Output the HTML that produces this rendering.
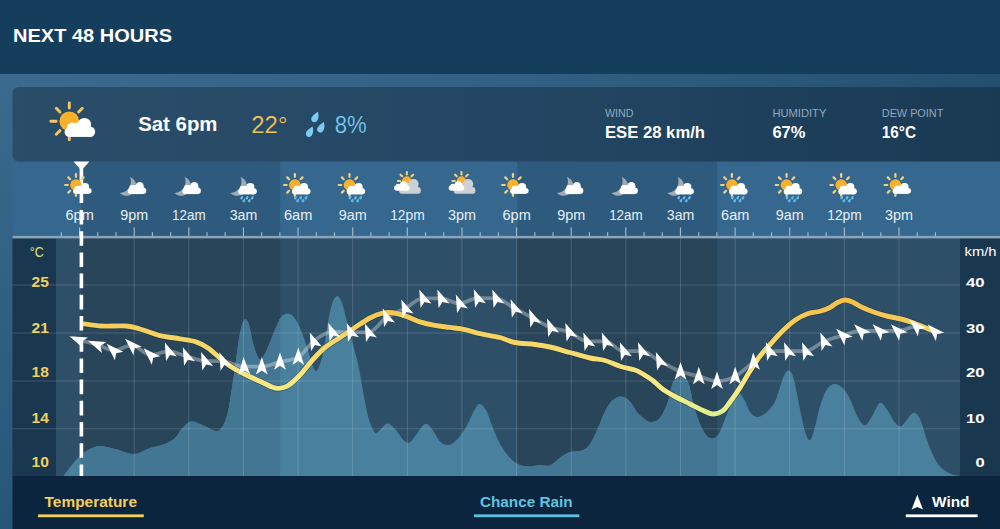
<!DOCTYPE html>
<html><head><meta charset="utf-8"><title>Next 48 Hours</title>
<style>html,body{margin:0;padding:0;background:#35668c;}body{width:1000px;height:529px;overflow:hidden;font-family:"Liberation Sans",sans-serif;}svg{display:block;}text{font-family:"Liberation Sans",sans-serif;}</style>
</head><body>
<svg width="1000" height="529" viewBox="0 0 1000 529">
<defs>
<linearGradient id="tg" gradientUnits="userSpaceOnUse" x1="0" y1="298" x2="0" y2="416"><stop offset="0" stop-color="#f4bf4a"/><stop offset="0.25" stop-color="#f5cf5c"/><stop offset="0.62" stop-color="#f7e37a"/><stop offset="0.8" stop-color="#f6ec88"/><stop offset="1" stop-color="#dcef8e"/></linearGradient>
<clipPath id="plot"><rect x="56.0" y="238.5" width="904.0" height="237.5"/></clipPath>
<linearGradient id="pg" x1="0" y1="0" x2="0" y2="1"><stop offset="0" stop-color="#3a6a8e"/><stop offset="1" stop-color="#27567b"/></linearGradient>
<linearGradient id="sg" x1="0" y1="0" x2="1" y2="0"><stop offset="0" stop-color="#3a6a8e"/><stop offset="0.5" stop-color="#316185"/><stop offset="1" stop-color="#24506f"/></linearGradient>
<linearGradient id="png" x1="0" y1="0" x2="1" y2="0"><stop offset="0" stop-color="#2a4d6a"/><stop offset="0.5" stop-color="#234764"/><stop offset="1" stop-color="#1a3953"/></linearGradient>
<g id="cl"><g fill="#ffffff"><circle cx="15.1" cy="3.3" r="6.7"/><circle cx="3.0" cy="6.7" r="5.4"/><circle cx="20.7" cy="10.4" r="5.2"/><circle cx="0" cy="10.9" r="4.7"/><rect x="0" y="5.6" width="20.7" height="10"/><path d="M5 2L9 1.2L11 4L9 8Z"/></g></g><g id="sc"><path d="M13.20 0.00L18.40 0.00M9.33 9.33L13.01 13.01M0.00 13.20L0.00 18.40M-9.33 9.33L-13.01 13.01M-13.20 0.00L-18.40 0.00M-9.33 -9.33L-13.01 -13.01M-0.00 -13.20L-0.00 -18.40M9.33 -9.33L13.01 -13.01" stroke="#f6c75c" stroke-width="2.90" stroke-linecap="round" fill="none"/><circle cx="0" cy="0" r="9.9" fill="#fbb02c"/><use href="#cl"/></g><g id="cls" transform="translate(0 -3.4) scale(1 0.95) translate(0 3.4)"><use href="#cl"/></g><g id="scs"><path d="M13.60 0.00L17.80 0.00M9.62 9.62L12.59 12.59M0.00 13.60L0.00 17.80M-9.62 9.62L-12.59 12.59M-13.60 0.00L-17.80 0.00M-9.62 -9.62L-12.59 -12.59M-0.00 -13.60L-0.00 -17.80M9.62 -9.62L12.59 -12.59" stroke="#f4d07c" stroke-width="3.70" stroke-linecap="round" fill="none"/><circle cx="0" cy="0" r="9.6" fill="#fbb02c"/><use href="#cls"/></g><g id="scsr"><path d="M13.60 0.00L17.80 0.00M9.62 9.62L12.59 12.59M0.00 13.60L0.00 17.80M-9.62 9.62L-12.59 12.59M-13.60 0.00L-17.80 0.00M-9.62 -9.62L-12.59 -12.59M-0.00 -13.60L-0.00 -17.80M9.62 -9.62L12.59 -12.59" stroke="#f4d07c" stroke-width="3.70" stroke-linecap="round" fill="none"/><circle cx="0" cy="0" r="9.6" fill="#fbb02c"/><use href="#cl"/></g><g id="clm" transform="translate(0 -5.0) scale(1 1.055) translate(0 3.4)"><use href="#cl"/></g><g id="mc"><path d="M-1.0 -13.2A16.0 16.0 0 1 1 -17.9 13.1A18.8 18.8 0 0 0 -1.0 -13.2Z" fill="#a0abb6"/><use href="#clm"/></g><g id="mcr"><path d="M-1.0 -13.2A16.0 16.0 0 1 1 -17.9 13.1A18.8 18.8 0 0 0 -1.0 -13.2Z" fill="#a0abb6"/><use href="#cl"/></g><g id="rn"><path d="M1.5 -2.7C2.2 -1.2 2.3 0.3 1.6 1.3A2.2 2.2 0 1 1 -2.0 -0.8C-1.1 -1.8 0.4 -2.2 1.5 -2.7Z" fill="#60b8e6" transform="translate(1.2 20.6)"/><path d="M1.5 -2.7C2.2 -1.2 2.3 0.3 1.6 1.3A2.2 2.2 0 1 1 -2.0 -0.8C-1.1 -1.8 0.4 -2.2 1.5 -2.7Z" fill="#60b8e6" transform="translate(10.0 20.6)"/><path d="M1.5 -2.7C2.2 -1.2 2.3 0.3 1.6 1.3A2.2 2.2 0 1 1 -2.0 -0.8C-1.1 -1.8 0.4 -2.2 1.5 -2.7Z" fill="#60b8e6" transform="translate(18.6 20.6)"/><path d="M1.5 -2.7C2.2 -1.2 2.3 0.3 1.6 1.3A2.2 2.2 0 1 1 -2.0 -0.8C-1.1 -1.8 0.4 -2.2 1.5 -2.7Z" fill="#60b8e6" transform="translate(4.9 25.5)"/><path d="M1.5 -2.7C2.2 -1.2 2.3 0.3 1.6 1.3A2.2 2.2 0 1 1 -2.0 -0.8C-1.1 -1.8 0.4 -2.2 1.5 -2.7Z" fill="#60b8e6" transform="translate(13.7 25.5)"/></g><g id="mcl"><g transform="translate(0 1.2)"><path d="M-6.60 0.00L-9.00 0.00M-4.67 -4.67L-6.36 -6.36M-0.00 -6.60L-0.00 -9.00M4.67 -4.67L6.36 -6.36" stroke="#f4d07c" stroke-width="2.10" stroke-linecap="round" fill="none"/><circle cx="0" cy="0" r="4.7" fill="#fbb02c"/></g><g fill="#cdd1d4"><rect x="-7.8" y="7.2" width="21.8" height="6.8" rx="3.4" ry="3.4"/><circle cx="6.7" cy="4.3" r="5.1"/><rect x="-1" y="6" width="10" height="4"/><circle cx="0.2" cy="6.4" r="3.4"/></g><g fill="#ffffff"><rect x="-12.8" y="5.4" width="15.6" height="5.6" rx="2.8" ry="2.8"/><circle cx="-3.2" cy="5.3" r="3.8"/><circle cx="-8.6" cy="6.6" r="2.6"/></g></g>
</defs>
<rect x="0" y="74" width="1000" height="455" fill="url(#pg)"/>
<rect x="0" y="74" width="1000" height="13.5" fill="url(#sg)"/>
<rect x="12.5" y="161" width="1000" height="78" fill="#36688f"/>
<rect x="0" y="0" width="1000" height="74" fill="#153d5c"/>
<rect x="81.4" y="161" width="198.8" height="77" fill="#2e5b7d"/>
<rect x="517.4" y="161" width="199.8" height="77" fill="#2e5b7d"/>
<rect x="12.5" y="87" width="1000" height="74.5" rx="6" ry="6" fill="url(#png)"/>
<rect x="12.5" y="238.5" width="987.5" height="237.5" fill="#2e4f68"/>
<rect x="81.4" y="238.5" width="198.8" height="237.5" fill="#294559"/>
<rect x="517.4" y="238.5" width="199.8" height="237.5" fill="#294559"/>
<rect x="12.5" y="238.5" width="43.5" height="237.5" fill="#193850"/>
<rect x="960.0" y="238.5" width="40.0" height="237.5" fill="#193850"/>
<rect x="12.5" y="476.0" width="1000" height="60" fill="#0c253e"/>
<clipPath id="nclip">
<rect x="81.4" y="238.5" width="198.8" height="237.5"/>
<rect x="517.4" y="238.5" width="199.8" height="237.5"/>
</clipPath>
<g clip-path="url(#plot)"><path d="M63.50 476.00C65.00 474.00 69.58 467.50 72.50 464.00C75.42 460.50 78.08 457.50 81.00 455.00C83.92 452.50 86.83 450.50 90.00 449.00C93.17 447.50 95.83 446.00 100.00 446.00C104.17 446.00 109.33 447.67 115.00 449.00C120.67 450.33 128.17 454.17 134.00 454.00C139.83 453.83 144.83 449.67 150.00 448.00C155.17 446.33 160.83 445.67 165.00 444.00C169.17 442.33 172.08 440.67 175.00 438.00C177.92 435.33 179.83 430.75 182.50 428.00C185.17 425.25 187.67 422.00 191.00 421.50C194.33 421.00 198.33 423.42 202.50 425.00C206.67 426.58 212.67 430.75 216.00 431.00C219.33 431.25 220.58 429.33 222.50 426.50C224.42 423.67 226.08 419.42 227.50 414.00C228.92 408.58 229.75 401.67 231.00 394.00C232.25 386.33 233.83 376.17 235.00 368.00C236.17 359.83 237.00 351.50 238.00 345.00C239.00 338.50 240.12 332.90 241.00 329.00C241.88 325.10 242.55 323.22 243.30 321.60C244.05 319.98 244.77 319.30 245.50 319.30C246.23 319.30 246.98 320.15 247.70 321.60C248.42 323.05 249.00 324.77 249.80 328.00C250.60 331.23 251.38 336.67 252.50 341.00C253.62 345.33 255.25 350.92 256.50 354.00C257.75 357.08 258.83 359.17 260.00 359.50C261.17 359.83 262.17 358.08 263.50 356.00C264.83 353.92 266.00 351.58 268.00 347.00C270.00 342.42 273.33 333.45 275.50 328.50C277.67 323.55 279.03 319.78 281.00 317.30C282.97 314.82 285.13 313.62 287.30 313.60C289.47 313.58 291.80 314.63 294.00 317.20C296.20 319.77 298.17 323.53 300.50 329.00C302.83 334.47 306.08 344.17 308.00 350.00C309.92 355.83 310.67 360.50 312.00 364.00C313.33 367.50 314.67 371.00 316.00 371.00C317.33 371.00 318.71 367.50 320.00 364.00C321.29 360.50 322.50 356.50 323.75 350.00C325.00 343.50 326.12 332.67 327.50 325.00C328.88 317.33 330.42 308.83 332.00 304.00C333.58 299.17 335.33 296.17 337.00 296.00C338.67 295.83 340.46 299.17 342.00 303.00C343.54 306.83 344.42 312.00 346.25 319.00C348.08 326.00 350.96 337.17 353.00 345.00C355.04 352.83 356.75 357.83 358.50 366.00C360.25 374.17 361.79 385.17 363.50 394.00C365.21 402.83 366.83 412.54 368.75 419.00C370.67 425.46 373.12 430.92 375.00 432.75C376.88 434.58 377.92 431.54 380.00 430.00C382.08 428.46 385.00 423.67 387.50 423.50C390.00 423.33 392.50 426.42 395.00 429.00C397.50 431.58 400.21 436.71 402.50 439.00C404.79 441.29 406.67 443.17 408.75 442.75C410.83 442.33 412.29 439.62 415.00 436.50C417.71 433.38 422.08 425.08 425.00 424.00C427.92 422.92 430.00 427.08 432.50 430.00C435.00 432.92 437.50 439.00 440.00 441.50C442.50 444.00 445.00 445.00 447.50 445.00C450.00 445.00 452.08 444.17 455.00 441.50C457.92 438.83 461.67 434.42 465.00 429.00C468.33 423.58 472.50 413.17 475.00 409.00C477.50 404.83 478.17 403.83 480.00 404.00C481.83 404.17 483.92 406.25 486.00 410.00C488.08 413.75 490.17 420.83 492.50 426.50C494.83 432.17 497.08 438.79 500.00 444.00C502.92 449.21 506.67 454.25 510.00 457.75C513.33 461.25 516.67 463.54 520.00 465.00C523.33 466.46 526.67 466.50 530.00 466.50C533.33 466.50 536.67 465.17 540.00 465.00C543.33 464.83 546.67 466.71 550.00 465.50C553.33 464.29 556.67 460.00 560.00 457.75C563.33 455.50 566.25 453.25 570.00 452.00C573.75 450.75 579.17 451.58 582.50 450.25C585.83 448.92 587.50 447.54 590.00 444.00C592.50 440.46 595.00 434.42 597.50 429.00C600.00 423.58 602.50 416.29 605.00 411.50C607.50 406.71 609.79 402.75 612.50 400.25C615.21 397.75 618.33 396.29 621.25 396.50C624.17 396.71 627.29 398.79 630.00 401.50C632.71 404.21 634.79 409.62 637.50 412.75C640.21 415.88 643.75 418.71 646.25 420.25C648.75 421.79 650.21 422.42 652.50 422.00C654.79 421.58 657.50 420.92 660.00 417.75C662.50 414.58 665.45 408.62 667.50 403.00C669.55 397.38 670.85 388.02 672.30 384.00C673.75 379.98 674.75 380.03 676.20 378.90C677.65 377.77 679.43 377.18 681.00 377.20C682.57 377.22 684.23 377.70 685.60 379.00C686.97 380.30 687.84 380.58 689.20 385.00C690.56 389.42 691.95 399.00 693.75 405.50C695.55 412.00 697.92 419.04 700.00 424.00C702.08 428.96 704.17 432.83 706.25 435.25C708.33 437.67 710.42 438.71 712.50 438.50C714.58 438.29 716.67 437.25 718.75 434.00C720.83 430.75 722.71 424.42 725.00 419.00C727.29 413.58 730.21 405.88 732.50 401.50C734.79 397.12 736.67 392.83 738.75 392.75C740.83 392.67 743.12 397.79 745.00 401.00C746.88 404.21 747.92 409.33 750.00 412.00C752.08 414.67 754.58 417.08 757.50 417.00C760.42 416.92 764.50 414.29 767.50 411.50C770.50 408.71 773.12 405.25 775.50 400.25C777.88 395.25 780.12 386.11 781.80 381.50C783.48 376.89 784.50 374.45 785.60 372.60C786.70 370.75 787.47 370.37 788.40 370.40C789.33 370.43 790.18 370.95 791.20 372.80C792.22 374.65 792.97 375.05 794.50 381.50C796.03 387.95 798.65 403.17 800.40 411.50C802.15 419.83 803.48 426.71 805.00 431.50C806.52 436.29 808.04 440.25 809.50 440.25C810.96 440.25 812.00 437.12 813.75 431.50C815.50 425.88 817.92 413.38 820.00 406.50C822.08 399.62 823.96 394.00 826.25 390.25C828.54 386.50 831.04 384.42 833.75 384.00C836.46 383.58 839.79 385.25 842.50 387.75C845.21 390.25 847.50 394.21 850.00 399.00C852.50 403.79 855.00 412.12 857.50 416.50C860.00 420.88 862.50 425.46 865.00 425.25C867.50 425.04 870.00 419.00 872.50 415.25C875.00 411.50 877.50 403.58 880.00 402.75C882.50 401.92 885.00 406.92 887.50 410.25C890.00 413.58 892.71 420.12 895.00 422.75C897.29 425.38 899.17 426.62 901.25 426.00C903.33 425.38 905.42 421.21 907.50 419.00C909.58 416.79 911.67 412.75 913.75 412.75C915.83 412.75 917.71 414.21 920.00 419.00C922.29 423.79 925.00 434.83 927.50 441.50C930.00 448.17 932.50 454.42 935.00 459.00C937.50 463.58 939.58 466.42 942.50 469.00C945.42 471.58 949.58 473.33 952.50 474.50C955.42 475.67 958.75 475.75 960.00 476.00L960.0 478.0L63.5 478.0Z" fill="#48809d"/></g>
<g clip-path="url(#nclip)"><path d="M63.50 476.00C65.00 474.00 69.58 467.50 72.50 464.00C75.42 460.50 78.08 457.50 81.00 455.00C83.92 452.50 86.83 450.50 90.00 449.00C93.17 447.50 95.83 446.00 100.00 446.00C104.17 446.00 109.33 447.67 115.00 449.00C120.67 450.33 128.17 454.17 134.00 454.00C139.83 453.83 144.83 449.67 150.00 448.00C155.17 446.33 160.83 445.67 165.00 444.00C169.17 442.33 172.08 440.67 175.00 438.00C177.92 435.33 179.83 430.75 182.50 428.00C185.17 425.25 187.67 422.00 191.00 421.50C194.33 421.00 198.33 423.42 202.50 425.00C206.67 426.58 212.67 430.75 216.00 431.00C219.33 431.25 220.58 429.33 222.50 426.50C224.42 423.67 226.08 419.42 227.50 414.00C228.92 408.58 229.75 401.67 231.00 394.00C232.25 386.33 233.83 376.17 235.00 368.00C236.17 359.83 237.00 351.50 238.00 345.00C239.00 338.50 240.12 332.90 241.00 329.00C241.88 325.10 242.55 323.22 243.30 321.60C244.05 319.98 244.77 319.30 245.50 319.30C246.23 319.30 246.98 320.15 247.70 321.60C248.42 323.05 249.00 324.77 249.80 328.00C250.60 331.23 251.38 336.67 252.50 341.00C253.62 345.33 255.25 350.92 256.50 354.00C257.75 357.08 258.83 359.17 260.00 359.50C261.17 359.83 262.17 358.08 263.50 356.00C264.83 353.92 266.00 351.58 268.00 347.00C270.00 342.42 273.33 333.45 275.50 328.50C277.67 323.55 279.03 319.78 281.00 317.30C282.97 314.82 285.13 313.62 287.30 313.60C289.47 313.58 291.80 314.63 294.00 317.20C296.20 319.77 298.17 323.53 300.50 329.00C302.83 334.47 306.08 344.17 308.00 350.00C309.92 355.83 310.67 360.50 312.00 364.00C313.33 367.50 314.67 371.00 316.00 371.00C317.33 371.00 318.71 367.50 320.00 364.00C321.29 360.50 322.50 356.50 323.75 350.00C325.00 343.50 326.12 332.67 327.50 325.00C328.88 317.33 330.42 308.83 332.00 304.00C333.58 299.17 335.33 296.17 337.00 296.00C338.67 295.83 340.46 299.17 342.00 303.00C343.54 306.83 344.42 312.00 346.25 319.00C348.08 326.00 350.96 337.17 353.00 345.00C355.04 352.83 356.75 357.83 358.50 366.00C360.25 374.17 361.79 385.17 363.50 394.00C365.21 402.83 366.83 412.54 368.75 419.00C370.67 425.46 373.12 430.92 375.00 432.75C376.88 434.58 377.92 431.54 380.00 430.00C382.08 428.46 385.00 423.67 387.50 423.50C390.00 423.33 392.50 426.42 395.00 429.00C397.50 431.58 400.21 436.71 402.50 439.00C404.79 441.29 406.67 443.17 408.75 442.75C410.83 442.33 412.29 439.62 415.00 436.50C417.71 433.38 422.08 425.08 425.00 424.00C427.92 422.92 430.00 427.08 432.50 430.00C435.00 432.92 437.50 439.00 440.00 441.50C442.50 444.00 445.00 445.00 447.50 445.00C450.00 445.00 452.08 444.17 455.00 441.50C457.92 438.83 461.67 434.42 465.00 429.00C468.33 423.58 472.50 413.17 475.00 409.00C477.50 404.83 478.17 403.83 480.00 404.00C481.83 404.17 483.92 406.25 486.00 410.00C488.08 413.75 490.17 420.83 492.50 426.50C494.83 432.17 497.08 438.79 500.00 444.00C502.92 449.21 506.67 454.25 510.00 457.75C513.33 461.25 516.67 463.54 520.00 465.00C523.33 466.46 526.67 466.50 530.00 466.50C533.33 466.50 536.67 465.17 540.00 465.00C543.33 464.83 546.67 466.71 550.00 465.50C553.33 464.29 556.67 460.00 560.00 457.75C563.33 455.50 566.25 453.25 570.00 452.00C573.75 450.75 579.17 451.58 582.50 450.25C585.83 448.92 587.50 447.54 590.00 444.00C592.50 440.46 595.00 434.42 597.50 429.00C600.00 423.58 602.50 416.29 605.00 411.50C607.50 406.71 609.79 402.75 612.50 400.25C615.21 397.75 618.33 396.29 621.25 396.50C624.17 396.71 627.29 398.79 630.00 401.50C632.71 404.21 634.79 409.62 637.50 412.75C640.21 415.88 643.75 418.71 646.25 420.25C648.75 421.79 650.21 422.42 652.50 422.00C654.79 421.58 657.50 420.92 660.00 417.75C662.50 414.58 665.45 408.62 667.50 403.00C669.55 397.38 670.85 388.02 672.30 384.00C673.75 379.98 674.75 380.03 676.20 378.90C677.65 377.77 679.43 377.18 681.00 377.20C682.57 377.22 684.23 377.70 685.60 379.00C686.97 380.30 687.84 380.58 689.20 385.00C690.56 389.42 691.95 399.00 693.75 405.50C695.55 412.00 697.92 419.04 700.00 424.00C702.08 428.96 704.17 432.83 706.25 435.25C708.33 437.67 710.42 438.71 712.50 438.50C714.58 438.29 716.67 437.25 718.75 434.00C720.83 430.75 722.71 424.42 725.00 419.00C727.29 413.58 730.21 405.88 732.50 401.50C734.79 397.12 736.67 392.83 738.75 392.75C740.83 392.67 743.12 397.79 745.00 401.00C746.88 404.21 747.92 409.33 750.00 412.00C752.08 414.67 754.58 417.08 757.50 417.00C760.42 416.92 764.50 414.29 767.50 411.50C770.50 408.71 773.12 405.25 775.50 400.25C777.88 395.25 780.12 386.11 781.80 381.50C783.48 376.89 784.50 374.45 785.60 372.60C786.70 370.75 787.47 370.37 788.40 370.40C789.33 370.43 790.18 370.95 791.20 372.80C792.22 374.65 792.97 375.05 794.50 381.50C796.03 387.95 798.65 403.17 800.40 411.50C802.15 419.83 803.48 426.71 805.00 431.50C806.52 436.29 808.04 440.25 809.50 440.25C810.96 440.25 812.00 437.12 813.75 431.50C815.50 425.88 817.92 413.38 820.00 406.50C822.08 399.62 823.96 394.00 826.25 390.25C828.54 386.50 831.04 384.42 833.75 384.00C836.46 383.58 839.79 385.25 842.50 387.75C845.21 390.25 847.50 394.21 850.00 399.00C852.50 403.79 855.00 412.12 857.50 416.50C860.00 420.88 862.50 425.46 865.00 425.25C867.50 425.04 870.00 419.00 872.50 415.25C875.00 411.50 877.50 403.58 880.00 402.75C882.50 401.92 885.00 406.92 887.50 410.25C890.00 413.58 892.71 420.12 895.00 422.75C897.29 425.38 899.17 426.62 901.25 426.00C903.33 425.38 905.42 421.21 907.50 419.00C909.58 416.79 911.67 412.75 913.75 412.75C915.83 412.75 917.71 414.21 920.00 419.00C922.29 423.79 925.00 434.83 927.50 441.50C930.00 448.17 932.50 454.42 935.00 459.00C937.50 463.58 939.58 466.42 942.50 469.00C945.42 471.58 949.58 473.33 952.50 474.50C955.42 475.67 958.75 475.75 960.00 476.00L960.0 478.0L63.5 478.0Z" fill="#427692"/></g>
<path d="M12.5 285.0H960.0M12.5 333.0H960.0M12.5 381.0H960.0M12.5 428.8H960.0M134.18 238.5V476.0M188.81 238.5V476.0M243.44 238.5V476.0M298.07 238.5V476.0M352.70 238.5V476.0M407.33 238.5V476.0M461.96 238.5V476.0M516.59 238.5V476.0M571.22 238.5V476.0M625.85 238.5V476.0M680.48 238.5V476.0M735.11 238.5V476.0M789.74 238.5V476.0M844.37 238.5V476.0M899.00 238.5V476.0" stroke="#ffffff" stroke-opacity="0.16" stroke-width="1" fill="none"/>
<path d="M78.41 339.98C84.58 341.48 90.74 342.60 96.91 344.48C102.42 346.16 107.93 350.44 113.44 350.44C119.60 350.44 125.77 345.44 131.94 345.44C138.10 345.44 144.27 354.94 150.44 354.94C156.45 354.94 162.47 351.41 168.48 351.41C174.48 351.41 180.48 354.63 186.48 356.21C192.55 357.80 198.62 360.71 204.68 360.91C210.78 361.11 216.88 361.01 222.98 361.21C229.98 361.44 236.98 366.69 243.97 366.69C249.91 366.69 255.86 366.66 261.80 366.60C267.87 366.54 273.93 363.48 280.00 361.90C286.10 360.31 292.20 360.30 298.30 357.10C303.36 354.44 308.42 345.45 313.48 341.41C319.65 336.48 325.82 331.91 331.98 331.91C338.15 331.91 344.32 332.13 350.48 332.21C356.48 332.29 362.48 332.41 368.48 332.41C374.48 332.41 380.48 321.38 386.48 317.41C392.65 313.33 398.82 311.63 404.98 308.41C410.98 305.28 416.98 298.41 422.98 298.41C428.98 298.41 434.98 298.41 440.98 298.41C447.15 298.41 453.32 303.41 459.48 303.41C465.48 303.41 471.48 298.21 477.48 298.21C483.65 298.21 489.82 298.28 495.98 298.41C502.08 298.54 508.18 304.97 514.28 308.21C520.42 311.47 526.55 314.67 532.68 317.91C538.68 321.07 544.68 325.08 550.68 327.41C556.78 329.78 562.88 329.54 568.98 331.91C574.98 334.24 580.98 341.41 586.98 341.41C593.15 341.41 599.32 341.41 605.48 341.41C611.48 341.41 617.48 351.21 623.48 351.21C629.55 351.21 635.62 351.21 641.68 351.21C647.62 351.21 653.55 357.77 659.48 360.91C666.49 364.61 673.49 368.98 680.50 371.60C686.60 373.88 692.70 374.71 698.80 376.30C704.87 377.88 710.93 381.10 717.00 381.10C723.07 381.10 729.13 379.42 735.20 376.30C741.36 373.13 747.51 366.55 753.67 362.09C758.94 358.26 764.21 351.21 769.48 351.21C775.55 351.21 781.62 351.21 787.68 351.21C793.68 351.21 799.68 351.21 805.68 351.21C811.78 351.21 817.88 344.02 823.98 341.41C830.30 338.71 836.62 337.22 842.94 335.44C848.94 333.75 854.94 330.94 860.94 330.94C867.10 330.94 873.27 330.94 879.44 330.94C885.50 330.94 891.57 330.94 897.64 330.94C903.90 330.94 910.17 326.44 916.44 326.44C922.44 326.44 928.44 329.97 934.44 331.24C935.77 331.52 937.10 331.77 938.44 332.04" fill="none" stroke="#ffffff" stroke-opacity="0.33" stroke-width="3.7" stroke-linecap="round" stroke-linejoin="round"/>
<path d="M82.50 323.60C85.75 324.00 94.75 325.60 102.00 326.00C109.25 326.40 119.67 325.50 126.00 326.00C132.33 326.50 134.33 327.40 140.00 329.00C145.67 330.60 153.33 333.97 160.00 335.60C166.67 337.23 174.00 337.77 180.00 338.80C186.00 339.83 191.33 340.27 196.00 341.80C200.67 343.33 204.00 345.30 208.00 348.00C212.00 350.70 216.33 355.00 220.00 358.00C223.67 361.00 226.04 363.38 230.00 366.00C233.96 368.62 238.33 371.00 243.75 373.75C249.17 376.50 257.79 380.29 262.50 382.50C267.21 384.71 269.33 386.02 272.00 387.00C274.67 387.98 275.92 388.57 278.50 388.40C281.08 388.23 283.92 388.23 287.50 386.00C291.08 383.77 295.83 379.33 300.00 375.00C304.17 370.67 308.33 364.58 312.50 360.00C316.67 355.42 320.42 351.25 325.00 347.50C329.58 343.75 335.00 340.83 340.00 337.50C345.00 334.17 350.00 330.75 355.00 327.50C360.00 324.25 365.42 320.38 370.00 318.00C374.58 315.62 378.75 314.07 382.50 313.20C386.25 312.33 388.75 312.37 392.50 312.80C396.25 313.23 400.42 314.30 405.00 315.80C409.58 317.30 415.00 320.20 420.00 321.80C425.00 323.40 430.00 324.47 435.00 325.40C440.00 326.33 445.00 326.70 450.00 327.40C455.00 328.10 460.00 328.57 465.00 329.60C470.00 330.63 474.17 332.28 480.00 333.60C485.83 334.92 494.17 336.02 500.00 337.50C505.83 338.98 509.17 341.33 515.00 342.50C520.83 343.67 529.17 343.75 535.00 344.50C540.83 345.25 544.17 345.67 550.00 347.00C555.83 348.33 563.33 350.67 570.00 352.50C576.67 354.33 584.17 356.67 590.00 358.00C595.83 359.33 600.00 359.12 605.00 360.50C610.00 361.88 615.00 364.67 620.00 366.25C625.00 367.83 631.33 368.79 635.00 370.00C638.67 371.21 639.08 371.79 642.00 373.50C644.92 375.21 649.08 377.67 652.50 380.25C655.92 382.83 658.75 386.29 662.50 389.00C666.25 391.71 670.42 394.00 675.00 396.50C679.58 399.00 685.42 401.71 690.00 404.00C694.58 406.29 698.75 408.58 702.50 410.25C706.25 411.92 709.17 413.88 712.50 414.00C715.83 414.12 719.58 413.00 722.50 411.00C725.42 409.00 727.08 405.90 730.00 402.00C732.92 398.10 736.67 392.77 740.00 387.60C743.33 382.43 746.67 376.27 750.00 371.00C753.33 365.73 756.67 360.42 760.00 356.00C763.33 351.58 766.25 348.67 770.00 344.50C773.75 340.33 778.33 335.05 782.50 331.00C786.67 326.95 790.83 323.08 795.00 320.20C799.17 317.32 803.33 315.19 807.50 313.70C811.67 312.21 816.25 312.28 820.00 311.25C823.75 310.22 827.08 308.96 830.00 307.50C832.92 306.04 835.00 303.75 837.50 302.50C840.00 301.25 842.50 300.08 845.00 300.00C847.50 299.92 849.58 300.75 852.50 302.00C855.42 303.25 858.75 305.75 862.50 307.50C866.25 309.25 870.83 311.04 875.00 312.50C879.17 313.96 883.33 315.21 887.50 316.25C891.67 317.29 895.83 317.71 900.00 318.75C904.17 319.79 908.33 321.04 912.50 322.50C916.67 323.96 921.08 325.92 925.00 327.50C928.92 329.08 934.17 331.25 936.00 332.00" fill="none" stroke="#10283c" stroke-opacity="0.5" stroke-width="6.1" stroke-linecap="butt" stroke-linejoin="round"/>
<path d="M82.50 323.60C85.75 324.00 94.75 325.60 102.00 326.00C109.25 326.40 119.67 325.50 126.00 326.00C132.33 326.50 134.33 327.40 140.00 329.00C145.67 330.60 153.33 333.97 160.00 335.60C166.67 337.23 174.00 337.77 180.00 338.80C186.00 339.83 191.33 340.27 196.00 341.80C200.67 343.33 204.00 345.30 208.00 348.00C212.00 350.70 216.33 355.00 220.00 358.00C223.67 361.00 226.04 363.38 230.00 366.00C233.96 368.62 238.33 371.00 243.75 373.75C249.17 376.50 257.79 380.29 262.50 382.50C267.21 384.71 269.33 386.02 272.00 387.00C274.67 387.98 275.92 388.57 278.50 388.40C281.08 388.23 283.92 388.23 287.50 386.00C291.08 383.77 295.83 379.33 300.00 375.00C304.17 370.67 308.33 364.58 312.50 360.00C316.67 355.42 320.42 351.25 325.00 347.50C329.58 343.75 335.00 340.83 340.00 337.50C345.00 334.17 350.00 330.75 355.00 327.50C360.00 324.25 365.42 320.38 370.00 318.00C374.58 315.62 378.75 314.07 382.50 313.20C386.25 312.33 388.75 312.37 392.50 312.80C396.25 313.23 400.42 314.30 405.00 315.80C409.58 317.30 415.00 320.20 420.00 321.80C425.00 323.40 430.00 324.47 435.00 325.40C440.00 326.33 445.00 326.70 450.00 327.40C455.00 328.10 460.00 328.57 465.00 329.60C470.00 330.63 474.17 332.28 480.00 333.60C485.83 334.92 494.17 336.02 500.00 337.50C505.83 338.98 509.17 341.33 515.00 342.50C520.83 343.67 529.17 343.75 535.00 344.50C540.83 345.25 544.17 345.67 550.00 347.00C555.83 348.33 563.33 350.67 570.00 352.50C576.67 354.33 584.17 356.67 590.00 358.00C595.83 359.33 600.00 359.12 605.00 360.50C610.00 361.88 615.00 364.67 620.00 366.25C625.00 367.83 631.33 368.79 635.00 370.00C638.67 371.21 639.08 371.79 642.00 373.50C644.92 375.21 649.08 377.67 652.50 380.25C655.92 382.83 658.75 386.29 662.50 389.00C666.25 391.71 670.42 394.00 675.00 396.50C679.58 399.00 685.42 401.71 690.00 404.00C694.58 406.29 698.75 408.58 702.50 410.25C706.25 411.92 709.17 413.88 712.50 414.00C715.83 414.12 719.58 413.00 722.50 411.00C725.42 409.00 727.08 405.90 730.00 402.00C732.92 398.10 736.67 392.77 740.00 387.60C743.33 382.43 746.67 376.27 750.00 371.00C753.33 365.73 756.67 360.42 760.00 356.00C763.33 351.58 766.25 348.67 770.00 344.50C773.75 340.33 778.33 335.05 782.50 331.00C786.67 326.95 790.83 323.08 795.00 320.20C799.17 317.32 803.33 315.19 807.50 313.70C811.67 312.21 816.25 312.28 820.00 311.25C823.75 310.22 827.08 308.96 830.00 307.50C832.92 306.04 835.00 303.75 837.50 302.50C840.00 301.25 842.50 300.08 845.00 300.00C847.50 299.92 849.58 300.75 852.50 302.00C855.42 303.25 858.75 305.75 862.50 307.50C866.25 309.25 870.83 311.04 875.00 312.50C879.17 313.96 883.33 315.21 887.50 316.25C891.67 317.29 895.83 317.71 900.00 318.75C904.17 319.79 908.33 321.04 912.50 322.50C916.67 323.96 921.08 325.92 925.00 327.50C928.92 329.08 934.17 331.25 936.00 332.00" fill="none" stroke="url(#tg)" stroke-width="4.9" stroke-linecap="butt" stroke-linejoin="round"/>
<path d="M0 0L5.9 17.5L0 13.5L-5.9 17.5Z" fill="#ffffff" transform="translate(69.54 336.31) rotate(-67.5)"/>
<path d="M0 0L5.9 17.5L0 13.5L-5.9 17.5Z" fill="#ffffff" transform="translate(88.04 340.81) rotate(-67.5)"/>
<path d="M0 0L5.9 17.5L0 13.5L-5.9 17.5Z" fill="#ffffff" transform="translate(106.65 343.65) rotate(-45.0)"/>
<path d="M0 0L5.9 17.5L0 13.5L-5.9 17.5Z" fill="#ffffff" transform="translate(125.15 338.65) rotate(-45.0)"/>
<path d="M0 0L5.9 17.5L0 13.5L-5.9 17.5Z" fill="#ffffff" transform="translate(143.65 348.15) rotate(-45.0)"/>
<path d="M0 0L5.9 17.5L0 13.5L-5.9 17.5Z" fill="#ffffff" transform="translate(164.81 342.54) rotate(-22.5)"/>
<path d="M0 0L5.9 17.5L0 13.5L-5.9 17.5Z" fill="#ffffff" transform="translate(182.81 347.34) rotate(-22.5)"/>
<path d="M0 0L5.9 17.5L0 13.5L-5.9 17.5Z" fill="#ffffff" transform="translate(201.01 352.04) rotate(-22.5)"/>
<path d="M0 0L5.9 17.5L0 13.5L-5.9 17.5Z" fill="#ffffff" transform="translate(219.31 352.34) rotate(-22.5)"/>
<path d="M0 0L5.9 17.5L0 13.5L-5.9 17.5Z" fill="#ffffff" transform="translate(243.47 357.10) rotate(-3.0)"/>
<path d="M0 0L5.9 17.5L0 13.5L-5.9 17.5Z" fill="#ffffff" transform="translate(261.80 357.00) rotate(0.0)"/>
<path d="M0 0L5.9 17.5L0 13.5L-5.9 17.5Z" fill="#ffffff" transform="translate(280.00 352.30) rotate(0.0)"/>
<path d="M0 0L5.9 17.5L0 13.5L-5.9 17.5Z" fill="#ffffff" transform="translate(298.30 347.50) rotate(0.0)"/>
<path d="M0 0L5.9 17.5L0 13.5L-5.9 17.5Z" fill="#ffffff" transform="translate(309.81 332.54) rotate(-22.5)"/>
<path d="M0 0L5.9 17.5L0 13.5L-5.9 17.5Z" fill="#ffffff" transform="translate(328.31 323.04) rotate(-22.5)"/>
<path d="M0 0L5.9 17.5L0 13.5L-5.9 17.5Z" fill="#ffffff" transform="translate(346.81 323.34) rotate(-22.5)"/>
<path d="M0 0L5.9 17.5L0 13.5L-5.9 17.5Z" fill="#ffffff" transform="translate(364.81 323.54) rotate(-22.5)"/>
<path d="M0 0L5.9 17.5L0 13.5L-5.9 17.5Z" fill="#ffffff" transform="translate(382.81 308.54) rotate(-22.5)"/>
<path d="M0 0L5.9 17.5L0 13.5L-5.9 17.5Z" fill="#ffffff" transform="translate(401.31 299.54) rotate(-22.5)"/>
<path d="M0 0L5.9 17.5L0 13.5L-5.9 17.5Z" fill="#ffffff" transform="translate(419.31 289.54) rotate(-22.5)"/>
<path d="M0 0L5.9 17.5L0 13.5L-5.9 17.5Z" fill="#ffffff" transform="translate(437.31 289.54) rotate(-22.5)"/>
<path d="M0 0L5.9 17.5L0 13.5L-5.9 17.5Z" fill="#ffffff" transform="translate(455.81 294.54) rotate(-22.5)"/>
<path d="M0 0L5.9 17.5L0 13.5L-5.9 17.5Z" fill="#ffffff" transform="translate(473.81 289.34) rotate(-22.5)"/>
<path d="M0 0L5.9 17.5L0 13.5L-5.9 17.5Z" fill="#ffffff" transform="translate(492.31 289.54) rotate(-22.5)"/>
<path d="M0 0L5.9 17.5L0 13.5L-5.9 17.5Z" fill="#ffffff" transform="translate(510.61 299.34) rotate(-22.5)"/>
<path d="M0 0L5.9 17.5L0 13.5L-5.9 17.5Z" fill="#ffffff" transform="translate(529.01 309.04) rotate(-22.5)"/>
<path d="M0 0L5.9 17.5L0 13.5L-5.9 17.5Z" fill="#ffffff" transform="translate(547.01 318.54) rotate(-22.5)"/>
<path d="M0 0L5.9 17.5L0 13.5L-5.9 17.5Z" fill="#ffffff" transform="translate(565.31 323.04) rotate(-22.5)"/>
<path d="M0 0L5.9 17.5L0 13.5L-5.9 17.5Z" fill="#ffffff" transform="translate(583.31 332.54) rotate(-22.5)"/>
<path d="M0 0L5.9 17.5L0 13.5L-5.9 17.5Z" fill="#ffffff" transform="translate(601.81 332.54) rotate(-22.5)"/>
<path d="M0 0L5.9 17.5L0 13.5L-5.9 17.5Z" fill="#ffffff" transform="translate(619.81 342.34) rotate(-22.5)"/>
<path d="M0 0L5.9 17.5L0 13.5L-5.9 17.5Z" fill="#ffffff" transform="translate(638.01 342.34) rotate(-22.5)"/>
<path d="M0 0L5.9 17.5L0 13.5L-5.9 17.5Z" fill="#ffffff" transform="translate(655.81 352.04) rotate(-22.5)"/>
<path d="M0 0L5.9 17.5L0 13.5L-5.9 17.5Z" fill="#ffffff" transform="translate(680.50 362.00) rotate(0.0)"/>
<path d="M0 0L5.9 17.5L0 13.5L-5.9 17.5Z" fill="#ffffff" transform="translate(698.80 366.70) rotate(0.0)"/>
<path d="M0 0L5.9 17.5L0 13.5L-5.9 17.5Z" fill="#ffffff" transform="translate(717.00 371.50) rotate(0.0)"/>
<path d="M0 0L5.9 17.5L0 13.5L-5.9 17.5Z" fill="#ffffff" transform="translate(735.20 366.70) rotate(0.0)"/>
<path d="M0 0L5.9 17.5L0 13.5L-5.9 17.5Z" fill="#ffffff" transform="translate(753.17 352.50) rotate(-3.0)"/>
<path d="M0 0L5.9 17.5L0 13.5L-5.9 17.5Z" fill="#ffffff" transform="translate(765.81 342.34) rotate(-22.5)"/>
<path d="M0 0L5.9 17.5L0 13.5L-5.9 17.5Z" fill="#ffffff" transform="translate(784.01 342.34) rotate(-22.5)"/>
<path d="M0 0L5.9 17.5L0 13.5L-5.9 17.5Z" fill="#ffffff" transform="translate(802.01 342.34) rotate(-22.5)"/>
<path d="M0 0L5.9 17.5L0 13.5L-5.9 17.5Z" fill="#ffffff" transform="translate(820.31 332.54) rotate(-22.5)"/>
<path d="M0 0L5.9 17.5L0 13.5L-5.9 17.5Z" fill="#ffffff" transform="translate(836.15 328.65) rotate(-45.0)"/>
<path d="M0 0L5.9 17.5L0 13.5L-5.9 17.5Z" fill="#ffffff" transform="translate(854.15 324.15) rotate(-45.0)"/>
<path d="M0 0L5.9 17.5L0 13.5L-5.9 17.5Z" fill="#ffffff" transform="translate(872.65 324.15) rotate(-45.0)"/>
<path d="M0 0L5.9 17.5L0 13.5L-5.9 17.5Z" fill="#ffffff" transform="translate(890.85 324.15) rotate(-45.0)"/>
<path d="M0 0L5.9 17.5L0 13.5L-5.9 17.5Z" fill="#ffffff" transform="translate(909.65 319.65) rotate(-45.0)"/>
<path d="M0 0L5.9 17.5L0 13.5L-5.9 17.5Z" fill="#ffffff" transform="translate(927.65 324.45) rotate(-45.0)"/>
<path d="M61.34 232.3V237M79.55 227.5V237M97.76 232.3V237M115.97 232.3V237M134.18 227.5V237M152.39 232.3V237M170.60 232.3V237M188.81 227.5V237M207.02 232.3V237M225.23 232.3V237M243.44 227.5V237M261.65 232.3V237M279.86 232.3V237M298.07 227.5V237M316.28 232.3V237M334.49 232.3V237M352.70 227.5V237M370.91 232.3V237M389.12 232.3V237M407.33 227.5V237M425.54 232.3V237M443.75 232.3V237M461.96 227.5V237M480.17 232.3V237M498.38 232.3V237M516.59 227.5V237M534.80 232.3V237M553.01 232.3V237M571.22 227.5V237M589.43 232.3V237M607.64 232.3V237M625.85 227.5V237M644.06 232.3V237M662.27 232.3V237M680.48 227.5V237M698.69 232.3V237M716.90 232.3V237M735.11 227.5V237M753.32 232.3V237M771.53 232.3V237M789.74 227.5V237M807.95 232.3V237M826.16 232.3V237M844.37 227.5V237M862.58 232.3V237M880.79 232.3V237M899.00 227.5V237M917.21 232.3V237M935.42 232.3V237" stroke="#a9bfd0" stroke-width="1.1" fill="none"/>
<rect x="12.5" y="235.9" width="1000" height="2.4" fill="#8da3b6"/>
<path d="M73.6 161.6H89.4L81.40 170.6Z" fill="#ffffff"/>
<path d="M81.40 165V203" stroke="#ffffff" stroke-width="3.6" fill="none"/>
<path d="M81.40 210V476" stroke="#ffffff" stroke-width="3.6" stroke-dasharray="14.6 6.6" fill="none"/>
<use href="#sc" transform="translate(69.3 121.3)"/>
<g transform="translate(75.95 185.00) scale(0.605)"><use href="#scs"/></g>
<g transform="translate(130.58 185.00) scale(0.605)"><use href="#mc"/></g>
<g transform="translate(185.21 185.00) scale(0.605)"><use href="#mc"/></g>
<g transform="translate(241.14 185.00) scale(0.605)"><use href="#mcr"/><use href="#rn"/></g>
<g transform="translate(294.87 185.00) scale(0.605)"><use href="#scsr"/><use href="#rn"/></g>
<g transform="translate(349.50 185.00) scale(0.605)"><use href="#scsr"/><use href="#rn"/></g>
<use href="#mcl" transform="translate(406.83 179.8)"/>
<use href="#mcl" transform="translate(461.46 179.8)"/>
<g transform="translate(512.99 185.00) scale(0.605)"><use href="#scs"/></g>
<g transform="translate(567.62 185.00) scale(0.605)"><use href="#mc"/></g>
<g transform="translate(622.25 185.00) scale(0.605)"><use href="#mc"/></g>
<g transform="translate(678.18 185.00) scale(0.605)"><use href="#mcr"/><use href="#rn"/></g>
<g transform="translate(731.91 185.00) scale(0.605)"><use href="#scsr"/><use href="#rn"/></g>
<g transform="translate(786.54 185.00) scale(0.605)"><use href="#scsr"/><use href="#rn"/></g>
<g transform="translate(841.17 185.00) scale(0.605)"><use href="#scsr"/><use href="#rn"/></g>
<g transform="translate(895.40 185.00) scale(0.605)"><use href="#scs"/></g>
<text x="13.00" y="42.00" font-size="18.50" font-weight="bold" fill="#ffffff" text-anchor="start" textLength="159.0" lengthAdjust="spacingAndGlyphs">NEXT 48 HOURS</text>
<text x="138.20" y="131.20" font-size="19.50" font-weight="bold" fill="#ffffff" text-anchor="start" textLength="79.3" lengthAdjust="spacingAndGlyphs">Sat 6pm</text>
<text x="251.30" y="132.90" font-size="24.00" font-weight="normal" fill="#f5c352" text-anchor="start" textLength="36.2" lengthAdjust="spacingAndGlyphs" stroke="#244766" stroke-width="0.2">22&#176;</text>
<text x="334.80" y="132.90" font-size="24.00" font-weight="normal" fill="#7cccf2" text-anchor="start" textLength="32.0" lengthAdjust="spacingAndGlyphs" stroke="#244766" stroke-width="0.2">8%</text>
<path d="M2.6 -6.6C3.6 -3.2 3.3 -0.2 2.4 1.5A3.3 3.3 0 1 1 -2.9 -1.9C-1.6 -3.8 0.6 -5.2 2.6 -6.6Z" fill="#7cccf2" transform="translate(315.3 118.3)"/>
<path d="M2.6 -6.6C3.6 -3.2 3.3 -0.2 2.4 1.5A3.3 3.3 0 1 1 -2.9 -1.9C-1.6 -3.8 0.6 -5.2 2.6 -6.6Z" fill="#7cccf2" transform="translate(321.2 128.6)"/>
<path d="M2.6 -6.6C3.6 -3.2 3.3 -0.2 2.4 1.5A3.3 3.3 0 1 1 -2.9 -1.9C-1.6 -3.8 0.6 -5.2 2.6 -6.6Z" fill="#7cccf2" transform="translate(309.9 133.0)"/>
<text x="605.00" y="117.00" font-size="10.80" font-weight="normal" fill="#90a9bd" text-anchor="start" textLength="28.6" lengthAdjust="spacingAndGlyphs">WIND</text>
<text x="605.00" y="137.60" font-size="15.60" font-weight="bold" fill="#ffffff" text-anchor="start" textLength="100.0" lengthAdjust="spacingAndGlyphs">ESE 28 km/h</text>
<text x="772.40" y="117.00" font-size="10.80" font-weight="normal" fill="#90a9bd" text-anchor="start" textLength="54.0" lengthAdjust="spacingAndGlyphs">HUMIDITY</text>
<text x="772.40" y="137.60" font-size="15.60" font-weight="bold" fill="#ffffff" text-anchor="start" textLength="33.0" lengthAdjust="spacingAndGlyphs">67%</text>
<text x="881.80" y="117.00" font-size="10.80" font-weight="normal" fill="#90a9bd" text-anchor="start" textLength="61.5" lengthAdjust="spacingAndGlyphs">DEW POINT</text>
<text x="881.80" y="137.60" font-size="15.60" font-weight="bold" fill="#ffffff" text-anchor="start" textLength="34.2" lengthAdjust="spacingAndGlyphs">16&#176;C</text>
<text x="79.65" y="219.60" font-size="14.70" font-weight="normal" fill="#e6eff6" text-anchor="middle" textLength="28.3" lengthAdjust="spacingAndGlyphs">6pm</text>
<text x="134.28" y="219.60" font-size="14.70" font-weight="normal" fill="#e6eff6" text-anchor="middle" textLength="28.0" lengthAdjust="spacingAndGlyphs">9pm</text>
<text x="188.91" y="219.60" font-size="14.70" font-weight="normal" fill="#e6eff6" text-anchor="middle" textLength="33.6" lengthAdjust="spacingAndGlyphs">12am</text>
<text x="243.54" y="219.60" font-size="14.70" font-weight="normal" fill="#e6eff6" text-anchor="middle" textLength="27.6" lengthAdjust="spacingAndGlyphs">3am</text>
<text x="298.17" y="219.60" font-size="14.70" font-weight="normal" fill="#e6eff6" text-anchor="middle" textLength="28.3" lengthAdjust="spacingAndGlyphs">6am</text>
<text x="352.80" y="219.60" font-size="14.70" font-weight="normal" fill="#e6eff6" text-anchor="middle" textLength="28.0" lengthAdjust="spacingAndGlyphs">9am</text>
<text x="407.43" y="219.60" font-size="14.70" font-weight="normal" fill="#e6eff6" text-anchor="middle" textLength="34.4" lengthAdjust="spacingAndGlyphs">12pm</text>
<text x="462.06" y="219.60" font-size="14.70" font-weight="normal" fill="#e6eff6" text-anchor="middle" textLength="28.0" lengthAdjust="spacingAndGlyphs">3pm</text>
<text x="516.69" y="219.60" font-size="14.70" font-weight="normal" fill="#e6eff6" text-anchor="middle" textLength="28.3" lengthAdjust="spacingAndGlyphs">6pm</text>
<text x="571.32" y="219.60" font-size="14.70" font-weight="normal" fill="#e6eff6" text-anchor="middle" textLength="28.0" lengthAdjust="spacingAndGlyphs">9pm</text>
<text x="625.95" y="219.60" font-size="14.70" font-weight="normal" fill="#e6eff6" text-anchor="middle" textLength="33.6" lengthAdjust="spacingAndGlyphs">12am</text>
<text x="680.58" y="219.60" font-size="14.70" font-weight="normal" fill="#e6eff6" text-anchor="middle" textLength="27.6" lengthAdjust="spacingAndGlyphs">3am</text>
<text x="735.21" y="219.60" font-size="14.70" font-weight="normal" fill="#e6eff6" text-anchor="middle" textLength="28.3" lengthAdjust="spacingAndGlyphs">6am</text>
<text x="789.84" y="219.60" font-size="14.70" font-weight="normal" fill="#e6eff6" text-anchor="middle" textLength="28.0" lengthAdjust="spacingAndGlyphs">9am</text>
<text x="844.47" y="219.60" font-size="14.70" font-weight="normal" fill="#e6eff6" text-anchor="middle" textLength="34.4" lengthAdjust="spacingAndGlyphs">12pm</text>
<text x="899.10" y="219.60" font-size="14.70" font-weight="normal" fill="#e6eff6" text-anchor="middle" textLength="28.0" lengthAdjust="spacingAndGlyphs">3pm</text>
<text x="31.60" y="287.00" font-size="14.00" font-weight="bold" fill="#f3cf5b" text-anchor="start" textLength="17.3" lengthAdjust="spacingAndGlyphs">25</text>
<text x="31.60" y="332.70" font-size="14.00" font-weight="bold" fill="#f3cf5b" text-anchor="start" textLength="17.3" lengthAdjust="spacingAndGlyphs">21</text>
<text x="31.60" y="376.80" font-size="14.00" font-weight="bold" fill="#f3cf5b" text-anchor="start" textLength="17.3" lengthAdjust="spacingAndGlyphs">18</text>
<text x="31.60" y="422.50" font-size="14.00" font-weight="bold" fill="#f3cf5b" text-anchor="start" textLength="17.3" lengthAdjust="spacingAndGlyphs">14</text>
<text x="31.60" y="467.20" font-size="14.00" font-weight="bold" fill="#f3cf5b" text-anchor="start" textLength="17.3" lengthAdjust="spacingAndGlyphs">10</text>
<text x="29.80" y="256.60" font-size="14.60" font-weight="normal" fill="#dfe37d" text-anchor="start" textLength="14.0" lengthAdjust="spacingAndGlyphs">&#176;C</text>
<text x="984.60" y="287.00" font-size="13.60" font-weight="bold" fill="#ffffff" text-anchor="end" textLength="18.6" lengthAdjust="spacingAndGlyphs">40</text>
<text x="984.60" y="332.70" font-size="13.60" font-weight="bold" fill="#ffffff" text-anchor="end" textLength="18.6" lengthAdjust="spacingAndGlyphs">30</text>
<text x="984.60" y="376.80" font-size="13.60" font-weight="bold" fill="#ffffff" text-anchor="end" textLength="18.6" lengthAdjust="spacingAndGlyphs">20</text>
<text x="984.60" y="422.50" font-size="13.60" font-weight="bold" fill="#ffffff" text-anchor="end" textLength="18.6" lengthAdjust="spacingAndGlyphs">10</text>
<text x="984.60" y="467.20" font-size="13.60" font-weight="bold" fill="#ffffff" text-anchor="end" textLength="9.2" lengthAdjust="spacingAndGlyphs">0</text>
<text x="964.60" y="256.30" font-size="13.40" font-weight="normal" fill="#ffffff" text-anchor="start" textLength="32.0" lengthAdjust="spacingAndGlyphs">km/h</text>
<text x="44.50" y="507.00" font-size="15.00" font-weight="bold" fill="#f3cf5b" text-anchor="start" textLength="92.5" lengthAdjust="spacingAndGlyphs">Temperature</text>
<rect x="38" y="514.4" width="105.8" height="2.8" fill="#f3cf5b"/>
<text x="480.00" y="507.00" font-size="15.00" font-weight="bold" fill="#5fc3e0" text-anchor="start" textLength="92.5" lengthAdjust="spacingAndGlyphs">Chance Rain</text>
<rect x="474" y="514.4" width="105.3" height="2.8" fill="#5fc3e0"/>
<text x="932.00" y="507.00" font-size="15.00" font-weight="bold" fill="#ffffff" text-anchor="start" textLength="37.5" lengthAdjust="spacingAndGlyphs">Wind</text>
<rect x="905.8" y="514.4" width="71.8" height="2.8" fill="#ffffff"/>
<path d="M917.3 494.8L923 509.6L917.3 506.9L911.6 509.6Z" fill="#ffffff"/>
</svg>
</body></html>
